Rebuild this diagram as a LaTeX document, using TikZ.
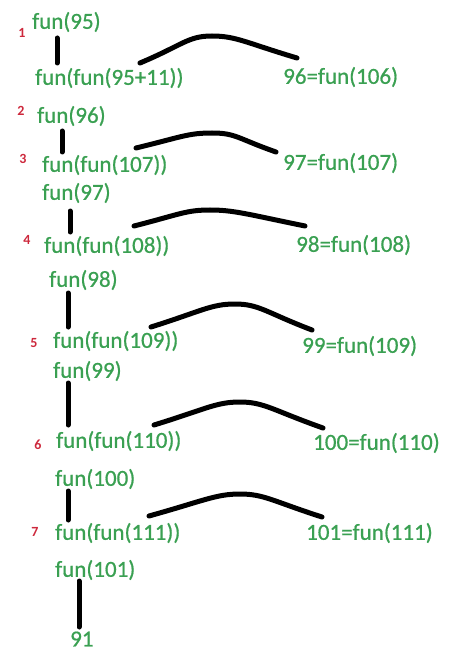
\documentclass[tikz,border=0pt]{standalone}
\usepackage{fontspec}
\setmainfont{Carlito}
\newfontfamily\greenfont[FakeBold=0.7]{Carlito}
\usetikzlibrary{calc}
\definecolor{fgreen}{RGB}{58,160,82}
\definecolor{fred}{RGB}{205,40,60}
\tikzset{
  txt/.style={anchor=west, inner sep=0pt, text=fgreen, font=\greenfont\fontsize{23}{27}\selectfont},
  num/.style={anchor=center, inner sep=0pt, text=fred, font=\bfseries\fontsize{14}{16}\selectfont},
  conn/.style={line width=5pt, black, line cap=round},
  arcline/.style={line width=5pt, black, line cap=round},
}
\begin{document}
\begin{tikzpicture}[x=1pt,y=-1pt]
\useasboundingbox (0,0) rectangle (448,652);
% step numbers
\node[num] (n1) at (22,33) {1};
\node[num] (n2) at (21,111) {2};
\node[num] (n3) at (23,159) {3};
\node[num] (n4) at (27,240) {4};
\node[num] (n5) at (34,343) {5};
\node[num] (n6) at (38,445) {6};
\node[num] (n7) at (35,532) {7};
% texts
\node[txt] (a0) at (32,22) {fun(95)};
\node[txt] (a1) at (35,78) {fun(fun(95+11))};
\node[txt] (r1) at (283,77) {96=fun(106)};
\node[txt] (b0) at (37,116) {fun(96)};
\node[txt] (b1) at (42,165) {fun(fun(107))};
\node[txt] (r2) at (283,163) {97=fun(107)};
\node[txt] (c0) at (42,193) {fun(97)};
\node[txt] (c1) at (44,246) {fun(fun(108))};
\node[txt] (r3) at (296,245) {98=fun(108)};
\node[txt] (d0) at (49,280) {fun(98)};
\node[txt] (d1) at (53,341) {fun(fun(109))};
\node[txt] (r4) at (302,346) {99=fun(109)};
\node[txt] (e0) at (53,371) {fun(99)};
\node[txt] (e1) at (56,441) {fun(fun(110))};
\node[txt] (r5) at (313,443) {100=fun(110)};
\node[txt] (f0) at (55,479) {fun(100)};
\node[txt] (f1) at (55,533) {fun(fun(111))};
\node[txt] (r6) at (306,533) {101=fun(111)};
\node[txt] (g0) at (55,570) {fun(101)};
\node[txt] (g1) at (70,639) {91};
% vertical connectors
\coordinate (v1a) at (57,38);  \coordinate (v1b) at (57,63);
\coordinate (v2a) at (62,131); \coordinate (v2b) at (62,152);
\coordinate (v3a) at (70,211); \coordinate (v3b) at (70,232);
\coordinate (v4a) at (68,293); \coordinate (v4b) at (68,327);
\coordinate (v5a) at (68,383); \coordinate (v5b) at (68,425);
\coordinate (v6a) at (68,491); \coordinate (v6b) at (68,520);
\coordinate (v7a) at (79,581); \coordinate (v7b) at (79,627);
\foreach \i in {1,...,7}{\draw[conn] (v\i a) -- (v\i b);}
% arcs
\coordinate (s1) at (140,63); \coordinate (p1) at (212,36); \coordinate (t1) at (297,58);
\coordinate (s2) at (136,148); \coordinate (p2) at (212,133); \coordinate (t2) at (276,152);
\coordinate (s3) at (134,226); \coordinate (p3) at (210,210); \coordinate (t3) at (305,226);
\coordinate (s4) at (151,327); \coordinate (p4) at (235,304); \coordinate (t4) at (312,330);
\coordinate (s5) at (154,425); \coordinate (p5) at (240,402); \coordinate (t5) at (323,428);
\coordinate (s6) at (149,516); \coordinate (p6) at (240,494); \coordinate (t6) at (322,517);
\foreach \i in {1,...,6}{
  \draw[arcline] (s\i) .. controls ($(s\i)!0.6!(p\i)+(0,-2)$) and ($(p\i)+(-24,0)$) .. (p\i)
                      .. controls ($(p\i)+(24,0)$) and ($(t\i)!0.6!(p\i)+(0,-2)$) .. (t\i);
}
\end{tikzpicture}
\end{document}
